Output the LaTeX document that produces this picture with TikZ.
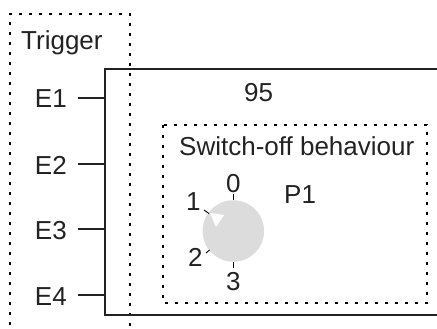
\documentclass[tikz,border=0pt]{standalone}
\usepackage{fontspec}
\setmainfont[Ligatures=NoCommon]{Liberation Sans}
\definecolor{dialgray}{HTML}{DCDCDC}
\definecolor{txt}{HTML}{222222}
\begin{document}
\begin{tikzpicture}[x=1pt,y=-1pt,
  lbl/.style={inner sep=0pt, text=txt, font=\fontsize{26}{30}\selectfont},
  dotline/.style={line width=2.8pt, dash pattern=on 2.8pt off 7.2pt},
  frame/.style={line width=2.3pt, draw=txt},
  tick/.style={line width=0.9pt}]
\useasboundingbox (0,0) rectangle (437,329);
\clip (0,0) rectangle (437,329);
% trigger group (dotted)
\draw[dotline] (10,335) -- (10,14) -- (130,14) -- (130,335);
\node[lbl, anchor=base west] (trig) at (21,49.5) {Trigger};
% main block
\draw[frame] (445,69) -- (105,69) -- (105,315) -- (445,315);
\node[lbl, anchor=base west] (num) at (244,102) {95};
% inputs
\foreach \i/\y in {1/98,2/164,3/229,4/295}{
  \node[lbl, anchor=base east] (e\i) at (67,\y+10) {E\i};
  \coordinate (p\i) at (105,\y);
  \draw[frame] (78,\y) -- (p\i);
}
% switch-off behaviour group
\draw[dotline] (163,125) rectangle (427,303);
\node[lbl, anchor=base west] (sob) at (179,155) {Switch-off behaviour};
\node[lbl, anchor=base west] (p1lbl) at (284,204) {P1};
% dial
\node[circle, fill=dialgray, minimum size=61.5pt, inner sep=0pt] (dial) at (233.3,231) {};
\fill[white] (210,213) -- (224,215) -- (216,227) -- cycle;
\draw[tick] (233,194) -- (233,200);
\draw[tick] (233,262) -- (233,268);
\draw[tick] (204,210) -- (209,213.5);
\draw[tick] (206,253) -- (209.5,250);
\node[lbl, anchor=base west] (d0) at (226,192) {0};
\node[lbl, anchor=base west] (d1) at (186,210) {1};
\node[lbl, anchor=base west] (d2) at (188,266) {2};
\node[lbl, anchor=base west] (d3) at (226,290) {3};
\end{tikzpicture}
\end{document}
